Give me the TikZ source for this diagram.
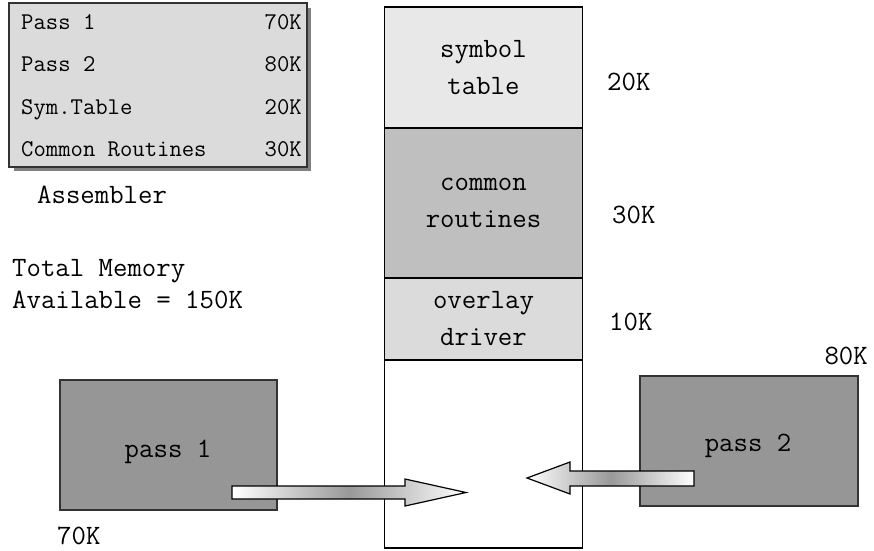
\documentclass[tikz,border=0pt]{standalone}
\begin{document}
\begin{tikzpicture}[x=1pt,y=-1pt,
  lbl/.style={inner sep=0pt,font=\ttfamily\fontsize{28}{30}\selectfont},
  tbl/.style={inner sep=0pt,font=\ttfamily\fontsize{24}{26}\selectfont},
  seg/.style={draw=black,line width=1.2pt,minimum width=198pt,inner sep=0pt,
    align=center,font=\ttfamily\fontsize{28}{37}\selectfont},
  passbox/.style={draw=black!80,line width=1.2pt,fill=black!41,minimum width=217pt,
    minimum height=130pt,inner sep=0pt},
  bigarrow/.style={draw=black,line width=1.2pt,left color=white,right color=white,middle color=black!40}]
\useasboundingbox (0,0) rectangle (874,550);

% assembler table with drop shadow
\fill[black!50] (14,8) rectangle (311,171);
\node[draw=black!80,line width=1.2pt,fill=black!14,minimum width=298pt,minimum height=164pt,inner sep=0pt]
  (asmtab) at (158,85) {};
\node[tbl,anchor=base west] (r1) at (21,29) {Pass 1};
\node[tbl,anchor=base east] (v1) at (302,29) {70K};
\node[tbl,anchor=base west] (r2) at (21,71) {Pass 2};
\node[tbl,anchor=base east] (v2) at (302,71) {80K};
\node[tbl,anchor=base west] (r3) at (21,114) {Sym.Table};
\node[tbl,anchor=base east] (v3) at (302,114) {20K};
\node[tbl,anchor=base west] (r4) at (21,156) {Common Routines};
\node[tbl,anchor=base east] (v4) at (302,156) {30K};

\node[lbl,anchor=base west] (asm) at (37,203) {Assembler};
\node[lbl,anchor=base west] (tot1) at (12,276) {Total Memory};
\node[lbl,anchor=base west] (tot2) at (12,308) {Available = 150K};

% memory column
\node[seg,fill=black!9,minimum height=121pt] (symtab) at (483.5,67.5) {symbol\\table};
\node[seg,fill=black!25,minimum height=150pt] (common) at (483.5,203) {common\\routines};
\node[seg,fill=black!14,minimum height=82pt] (driver) at (483.5,319) {overlay\\driver};
\node[seg,fill=white,minimum height=188pt] (free) at (483.5,454) {};

\node[lbl,anchor=base west] (k20) at (607,90) {20K};
\node[lbl,anchor=base west] (k30) at (612,223) {30K};
\node[lbl,anchor=base west] (k10) at (609,330) {10K};

% overlay passes
\node[passbox] (p1) at (168.5,445) {};
\node[lbl] (p1t) at (168,452) {pass 1};
\node[passbox,minimum width=218pt] (p2) at (749,441) {};
\node[lbl] (p2t) at (748,446) {pass 2};
\node[lbl,anchor=base east] (k80) at (868,364) {80K};
\node[lbl,anchor=base west] (k70) at (57,544) {70K};

% load arrows into the free area
\coordinate (tip1) at (466,492.5);
\coordinate (tip2) at (527,478);
\path[bigarrow] (232,486) -- (405,486) -- (405,479) -- (tip1)
  -- (405,506) -- (405,499) -- (232,499) -- cycle;
\path[bigarrow] (tip2) -- (570,462) -- (570,471) -- (694,471)
  -- (694,486) -- (570,486) -- (570,494) -- cycle;
\end{tikzpicture}
\end{document}
